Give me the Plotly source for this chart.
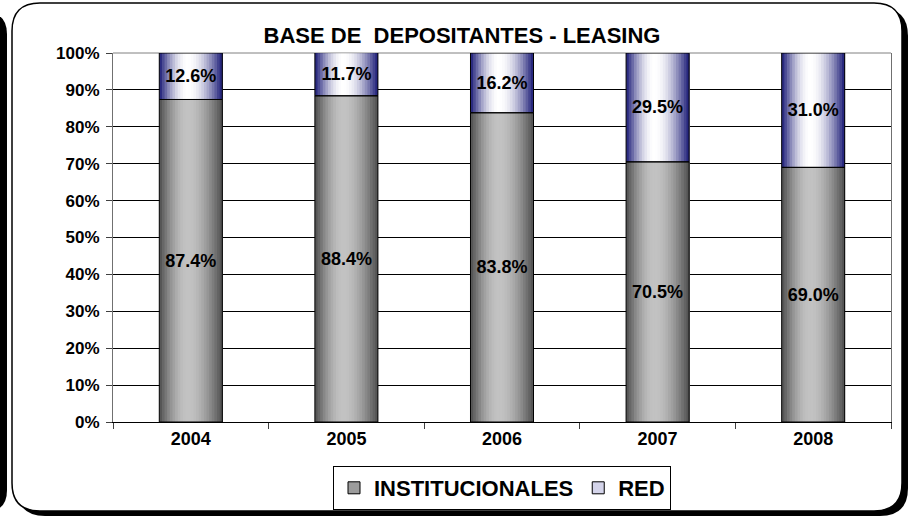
import math
import plotly.graph_objects as go

# Data (percent of depositors)
years = ["2004", "2005", "2006", "2007", "2008"]
institucionales = [87.4, 88.4, 83.8, 70.5, 69.0]
red = [12.6, 11.7, 16.2, 29.5, 31.0]

# Figure geometry (pixels)
W, H = 909, 516
L, R, T, B = 113, 18, 53, 94
PW, PH = W - L - R, H - T - B

FONT = "Liberation Sans, Arial, sans-serif"
BAR_W = 0.405
N_STRIPS = 24


def to_paper(x, y):
    return (x - L) / PW, (H - B - y) / PH


def rounded_rect(x0, y0, x1, y1, r):
    pts = [
        ("M", [(x0 + r, y0)]),
        ("L", [(x1 - r, y0)]),
        ("Q", [(x1, y0), (x1, y0 + r)]),
        ("L", [(x1, y1 - r)]),
        ("Q", [(x1, y1), (x1 - r, y1)]),
        ("L", [(x0 + r, y1)]),
        ("Q", [(x0, y1), (x0, y1 - r)]),
        ("L", [(x0, y0 + r)]),
        ("Q", [(x0, y0), (x0 + r, y0)]),
    ]
    out = []
    for cmd, coords in pts:
        c = " ".join("%.5f,%.5f" % to_paper(x, y) for x, y in coords)
        out.append(cmd + " " + c)
    return " ".join(out) + " Z"


def shade(t, dark, light, peak=0.45):
    s = t / peak if t <= peak else (1 - t) / (1 - peak)
    b = math.sin(max(0.0, min(1.0, s)) * math.pi / 2)
    c = [round(d + (l - d) * b) for d, l in zip(dark, light)]
    return "rgb(%d,%d,%d)" % tuple(c)


fig = go.Figure()

# cylinder-like gradient fills: overlapping strips, each running to the
# right edge of the bar so no seams show between them
step = BAR_W / N_STRIPS
for i in range(N_STRIPS):
    t = (i + 0.5) / N_STRIPS
    off = -BAR_W / 2 + i * step
    wid = BAR_W - i * step
    fig.add_bar(
        x=years, y=institucionales, base=[0] * len(years),
        width=wid, offset=off,
        marker=dict(color=shade(t, (78, 78, 78), (194, 194, 194)), line=dict(width=0)),
        showlegend=False, hoverinfo="skip",
    )
    fig.add_bar(
        x=years, y=red, base=institucionales,
        width=wid, offset=off,
        marker=dict(color=shade(t, (26, 26, 118), (255, 255, 255)), line=dict(width=0)),
        showlegend=False, hoverinfo="skip",
    )

label_font = dict(family=FONT, size=18, color="black", weight="bold")

# outlines + labels
fig.add_bar(
    x=years, y=institucionales, base=[0] * len(years),
    width=BAR_W, offset=-BAR_W / 2,
    marker=dict(color="rgba(0,0,0,0)", line=dict(color="black", width=1)),
    text=["%.1f%%" % v for v in institucionales],
    textposition="inside", insidetextanchor="middle", textangle=0,
    constraintext="none", textfont=label_font,
    showlegend=False, hoverinfo="skip",
)
fig.add_bar(
    x=years, y=red, base=institucionales,
    width=BAR_W, offset=-BAR_W / 2,
    marker=dict(color="rgba(0,0,0,0)", line=dict(color="black", width=1)),
    text=["%.1f%%" % v for v in red],
    textposition="inside", insidetextanchor="middle", textangle=0,
    constraintext="none", textfont=label_font,
    showlegend=False, hoverinfo="skip",
)

# legend entries
fig.add_bar(x=[None], y=[None], name="INSTITUCIONALES",
            marker=dict(color="#9c9c9c", line=dict(color="black", width=1)))
fig.add_bar(x=[None], y=[None], name="RED",
            marker=dict(color="#d4d4ea", line=dict(color="black", width=1)))

# chart frame: neighbour edge, drop shadow and rounded box
shapes = [
    dict(type="path", path=rounded_rect(-40, 12, 7, 512, 22),
         xref="paper", yref="paper", fillcolor="black", line=dict(width=0), layer="below"),
    dict(type="path", path=rounded_rect(17, 8, 908, 516, 28),
         xref="paper", yref="paper", fillcolor="black", line=dict(width=0), layer="below"),
    dict(type="path", path=rounded_rect(12, 3, 902, 511, 28),
         xref="paper", yref="paper", fillcolor="white",
         line=dict(color="black", width=1.5), layer="below"),
    dict(type="line", xref="paper", yref="paper", x0=0, x1=1, y0=1, y1=1,
         line=dict(color="#808080", width=1), layer="between"),
]

fig.update_layout(
    width=W, height=H, autosize=False,
    margin=dict(l=L, r=R, t=T, b=B, autoexpand=False),
    paper_bgcolor="white", plot_bgcolor="white",
    barmode="overlay",
    shapes=shapes,
    title=dict(
        text="BASE DE\u00a0 DEPOSITANTES - LEASING",
        x=462 / W, xref="container", xanchor="center",
        y=1 - 35 / H, yref="container", yanchor="middle",
        font=dict(family=FONT, size=22, color="black", weight="bold"),
    ),
    xaxis=dict(
        type="category", categoryorder="array", categoryarray=years,
        showline=True, linecolor="black", linewidth=1,
        ticks="outside", tickson="boundaries", ticklen=6, tickcolor="#404040",
        showgrid=False,
        tickfont=dict(family=FONT, size=18, color="black", weight="bold"),
    ),
    yaxis=dict(
        range=[0, 100], dtick=10, ticksuffix="%",
        showline=True, mirror=True, linecolor="#707070", linewidth=1,
        ticks="outside", ticklen=6, tickcolor="#404040",
        showgrid=True, gridcolor="black", gridwidth=1, zeroline=False,
        tickfont=dict(family=FONT, size=17, color="black", weight="bold"),
        ticklabelstandoff=3,
    ),
    legend=dict(
        orientation="h", x=0.5, xanchor="center",
        y=(H - B - 466) / PH, yanchor="top",
        bordercolor="black", borderwidth=1, bgcolor="white",
        font=dict(family=FONT, size=22, color="black", weight="bold"),
        traceorder="normal",
    ),
)

# page body margin would shift the figure by 8px; remove it
fig.write_html(
    "out.html",
    config={"displayModeBar": False},
    post_script="document.body.style.margin='0';",
)
